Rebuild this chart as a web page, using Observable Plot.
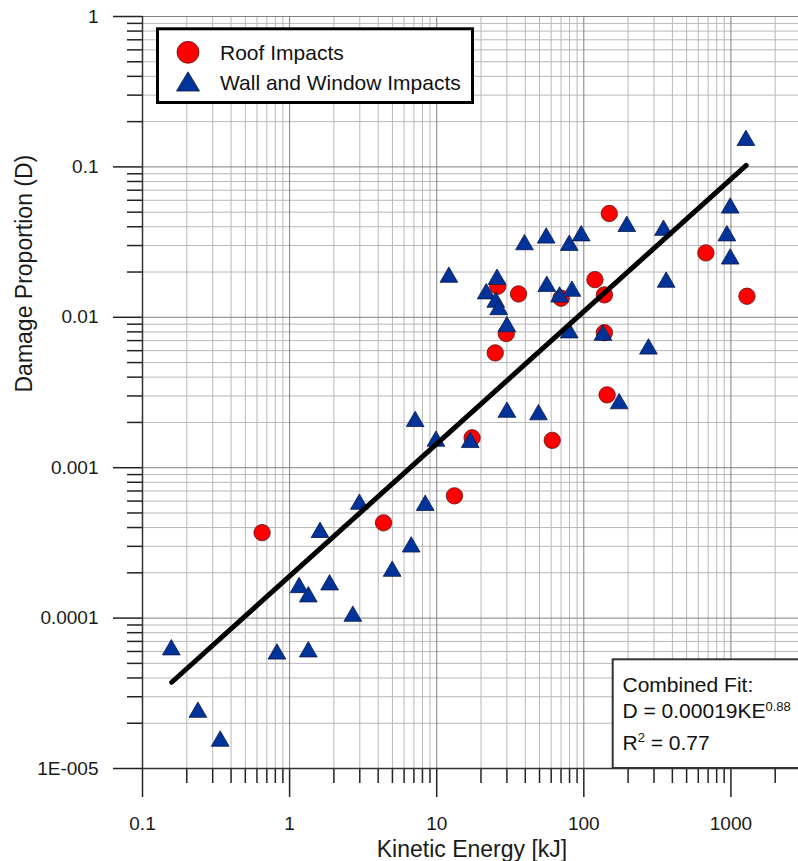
<!DOCTYPE html>
<html><head><meta charset="utf-8">
<script src="https://cdn.jsdelivr.net/npm/d3@7"></script>
<script src="https://cdn.jsdelivr.net/npm/@observablehq/plot@0.6"></script>
<style>
html,body{margin:0;padding:0;background:#fff;}
#wrap{position:relative;width:798px;height:861px;overflow:hidden;}
#overlay{position:absolute;left:0;top:0;pointer-events:none;}
</style></head><body><div id="wrap"></div>
<script>
// Roof impacts (red circles)
const roofKE = [0.65, 4.35, 13.2, 17.4, 61, 144, 25, 29.7, 138, 36, 70, 138, 119, 26, 149, 676, 1285];
const roofD  = [0.00037, 0.00043, 0.00065, 0.00158, 0.00152, 0.00305, 0.0058, 0.0078, 0.0079, 0.0143, 0.0134, 0.0141, 0.0178, 0.0161, 0.049, 0.0268, 0.0138];
// Wall and window impacts (blue triangles)
const wallKE = [0.157, 0.238, 0.3375, 0.82, 1.34, 1.16, 1.34, 1.87, 1.61, 2.69, 2.98, 4.98, 6.71, 8.35, 7.14, 9.88, 16.9, 30, 49.2, 174, 275, 79.6, 135, 30, 12.1, 21.7, 25.7, 25.2, 26.4, 56, 68.4, 83, 363, 39.5, 55.5, 79.6, 96, 196, 348, 939, 989, 989, 1265];
const wallD  = [0.000064, 0.0000246, 0.0000158, 0.00006, 0.000062, 0.000166, 0.000144, 0.000173, 0.000386, 0.000107, 0.000594, 0.000213, 0.000309, 0.000584, 0.00211, 0.00156, 0.00153, 0.00243, 0.00234, 0.00277, 0.0064, 0.0082, 0.0079, 0.009, 0.0192, 0.0149, 0.0186, 0.0131, 0.0117, 0.0167, 0.0142, 0.0155, 0.0178, 0.0316, 0.035, 0.0313, 0.0362, 0.0418, 0.0394, 0.0362, 0.0554, 0.0254, 0.156];
// Combined power-law fit as printed on the chart, drawn over its KE extent
const fitKE = [0.158, 1270];
const fitCoef = 0.00019;
const fitExp = 0.88;
// Axes
const xMajor = [0.1, 1, 10, 100, 1000];
const xLabels = ["0.1", "1", "10", "100", "1000"];
const yMajor = [0.00001, 0.0001, 0.001, 0.01, 0.1, 1];
const yLabels = ["1E-005", "0.0001", "0.001", "0.01", "0.1", "1"];
const xTitle = "Kinetic Energy [kJ]";
const yTitle = "Damage Proportion (D)";
const seriesNames = ["Roof Impacts", "Wall and Window Impacts"];
const fitLines = ["Combined Fit:", "D = 0.00019KE", "0.88", "R", "2", " = 0.77"];

const mult = [2, 3, 4, 5, 6, 7, 8, 9];
const xMinor = [0.1, 1, 10, 100].flatMap(d => mult.map(k => +(k * d).toPrecision(3))).concat([2000]);
const yMinor = [0.00001, 0.0001, 0.001, 0.01, 0.1].flatMap(d => mult.map(k => +(k * d).toPrecision(3)));
const xLab = new Map(xMajor.map((v, i) => [v, xLabels[i]]));
const yLab = new Map(yMajor.map((v, i) => [v, yLabels[i]]));

const roof = roofKE.map((x, i) => ({x, y: roofD[i]}));
const wall = wallKE.map((x, i) => ({x, y: wallD[i]}));
const fit = fitKE.map(x => ({x, y: fitCoef * Math.pow(x, fitExp)}));

const FONT = '"Liberation Sans", Arial, Helvetica, sans-serif';

const chart = Plot.plot({
  width: 798, height: 861,
  marginLeft: 142, marginRight: 0, marginTop: 16, marginBottom: 93,
  style: {fontFamily: FONT, fontSize: "19px", color: "#1a1a1a", background: "#fff", overflow: "hidden"},
  x: {type: "log", domain: [0.1, 3000], range: [142, 800.6], label: null},
  y: {type: "log", domain: [0.00001, 1], range: [768, 16], label: null},
  marks: [
    Plot.gridX(xMinor, {stroke: "#b8b8b8", strokeOpacity: 1, strokeWidth: 1}),
    Plot.gridY(yMinor, {stroke: "#b8b8b8", strokeOpacity: 1, strokeWidth: 1}),
    Plot.gridX(xMajor, {stroke: "#808080", strokeOpacity: 1, strokeWidth: 1}),
    Plot.gridY(yMajor, {stroke: "#808080", strokeOpacity: 1, strokeWidth: 1}),
    Plot.axisX(xMinor, {tickSize: 15, tickFormat: () => "", stroke: "#222", strokeWidth: 1.5, label: null}),
    Plot.axisY(yMinor, {tickSize: 15, tickFormat: () => "", stroke: "#222", strokeWidth: 1.5, label: null}),
    Plot.axisX(xMajor, {tickSize: 29, tickPadding: 19, tickFormat: d => xLab.get(d), stroke: "#222", strokeWidth: 1.5, fontSize: 19, label: null}),
    Plot.axisY(yMajor, {tickSize: 29, tickPadding: 15, tickFormat: d => yLab.get(d), stroke: "#222", strokeWidth: 1.5, fontSize: 19, label: null}),
    Plot.ruleX([0.1], {stroke: "#333", strokeWidth: 1.5}),
    Plot.ruleY([0.00001], {stroke: "#333", strokeWidth: 1.5}),
    Plot.dot(roof, {x: "x", y: "y", r: 8.2, fill: "#ff0000", stroke: "#5a1414", strokeWidth: 0.8}),
    Plot.dot(wall, {x: "x", y: "y", r: 6.6, symbol: "triangle", fill: "#003399", stroke: "#101a48", strokeWidth: 0.8, dy: 2.5}),
    Plot.line(fit, {x: "x", y: "y", stroke: "#000", strokeWidth: 5, strokeLinecap: "round"}),
    Plot.text([xTitle], {text: d => d, frameAnchor: "bottom", lineAnchor: "bottom", dy: 88, dx: 1.5, fontSize: 23, fill: "#1a1a1a"}),
    Plot.text([yTitle], {text: d => d, frameAnchor: "left", lineAnchor: "bottom", rotate: -90, dx: -110.5, fontSize: 23, fill: "#1a1a1a"})
  ]
});
document.getElementById("wrap").appendChild(chart);

// Legend and fit annotation boxes (overlaid on the plot area)
const ov = d3.select("#wrap").append("svg").attr("id", "overlay")
  .attr("width", 798).attr("height", 861).attr("font-family", FONT);
const lg = ov.append("g");
lg.append("rect").attr("x", 157.5).attr("y", 28.8).attr("width", 315).attr("height", 73.7)
  .attr("fill", "#fff").attr("stroke", "#000").attr("stroke-width", 3);
lg.append("circle").attr("cx", 188).attr("cy", 52.3).attr("r", 11)
  .attr("fill", "#ff0000").attr("stroke", "#5a1414").attr("stroke-width", 0.8);
lg.append("path").attr("d", "M188,71.8L199.5,91L176.5,91Z")
  .attr("fill", "#003399").attr("stroke", "#101a48").attr("stroke-width", 0.8);
lg.append("text").attr("x", 220).attr("y", 60).attr("font-size", 21).attr("fill", "#111").text(seriesNames[0]);
lg.append("text").attr("x", 220).attr("y", 89.5).attr("font-size", 21).attr("fill", "#111").text(seriesNames[1]);

const fb = ov.append("g");
fb.append("rect").attr("x", 612.7).attr("y", 659.3).attr("width", 220).attr("height", 108.7)
  .attr("fill", "#fff").attr("stroke", "#333").attr("stroke-width", 2);
fb.append("text").attr("x", 622.5).attr("y", 691.5).attr("font-size", 21).attr("fill", "#111").text(fitLines[0]);
const t2 = fb.append("text").attr("x", 622.5).attr("y", 717.5).attr("font-size", 21).attr("fill", "#111");
t2.append("tspan").text(fitLines[1]);
t2.append("tspan").attr("font-size", 13).attr("dy", -6.5).text(fitLines[2]);
const t3 = fb.append("text").attr("x", 622.5).attr("y", 750).attr("font-size", 21).attr("fill", "#111");
t3.append("tspan").text(fitLines[3]);
t3.append("tspan").attr("font-size", 13).attr("dy", -8).text(fitLines[4]);
t3.append("tspan").attr("dy", 8).text(fitLines[5]);
</script>
</body></html>
